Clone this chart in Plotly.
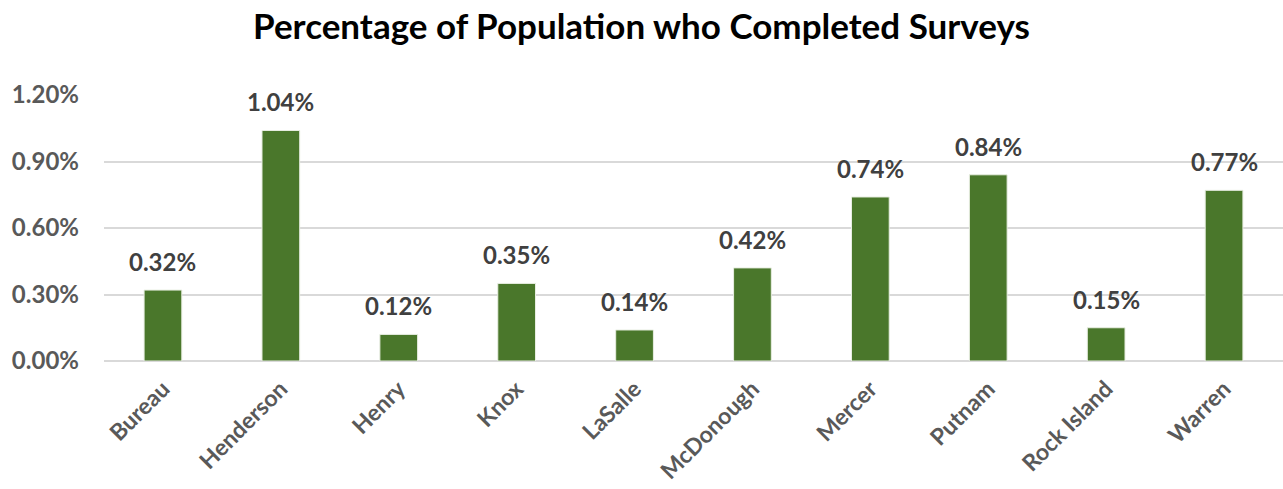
import plotly.graph_objects as go

counties = ["Bureau", "Henderson", "Henry", "Knox", "LaSalle", "McDonough",
            "Mercer", "Putnam", "Rock Island", "Warren"]
pct_completed = [0.0032, 0.0104, 0.0012, 0.0035, 0.0014, 0.0042,
                 0.0074, 0.0084, 0.0015, 0.0077]
y_ticks = [0.0, 0.003, 0.006, 0.009, 0.012]

FONT = "Lato"
BAR_GREEN = "#4a772b"

fig = go.Figure(
    go.Bar(
        x=counties,
        y=pct_completed,
        marker=dict(color=BAR_GREEN, line=dict(color="#e8eee2", width=1)),
        width=0.32,
        hoverinfo="x+y",
    )
)

# value labels above each bar
for c, v in zip(counties, pct_completed):
    fig.add_annotation(
        x=c, y=v, text=f"{v:.2%}", showarrow=False,
        yanchor="bottom", yshift=12,
        font=dict(family=FONT, size=24, color="#404040", weight="bold"),
    )

fig.update_layout(
    width=1283, height=489,
    margin=dict(l=104, r=0, t=95, b=128),
    paper_bgcolor="white", plot_bgcolor="white",
    title=dict(
        text="Percentage of Population who Completed Surveys",
        x=0.5, xanchor="center", y=0.945, yanchor="middle",
        font=dict(family=FONT, size=35, color="#000000", weight="bold"),
    ),
    showlegend=False,
    xaxis=dict(
        tickangle=-45,
        tickfont=dict(family=FONT, size=23, color="#595959", weight="bold"),
        showgrid=False, showline=False, ticks="",
        ticklabelstandoff=9,
        automargin=False,
    ),
    yaxis=dict(
        range=[0, 0.012],
        tickvals=y_ticks,
        tickformat=".2%",
        tickfont=dict(family=FONT, size=24, color="#595959", weight="bold"),
        showgrid=True, gridcolor="#d9d9d9", gridwidth=1.5,
        zeroline=True, zerolinecolor="#d9d9d9", zerolinewidth=1.5,
        showline=False, ticks="",
        ticklabelstandoff=24,
        automargin=False,
    ),
)

fig.write_html("out.html")
